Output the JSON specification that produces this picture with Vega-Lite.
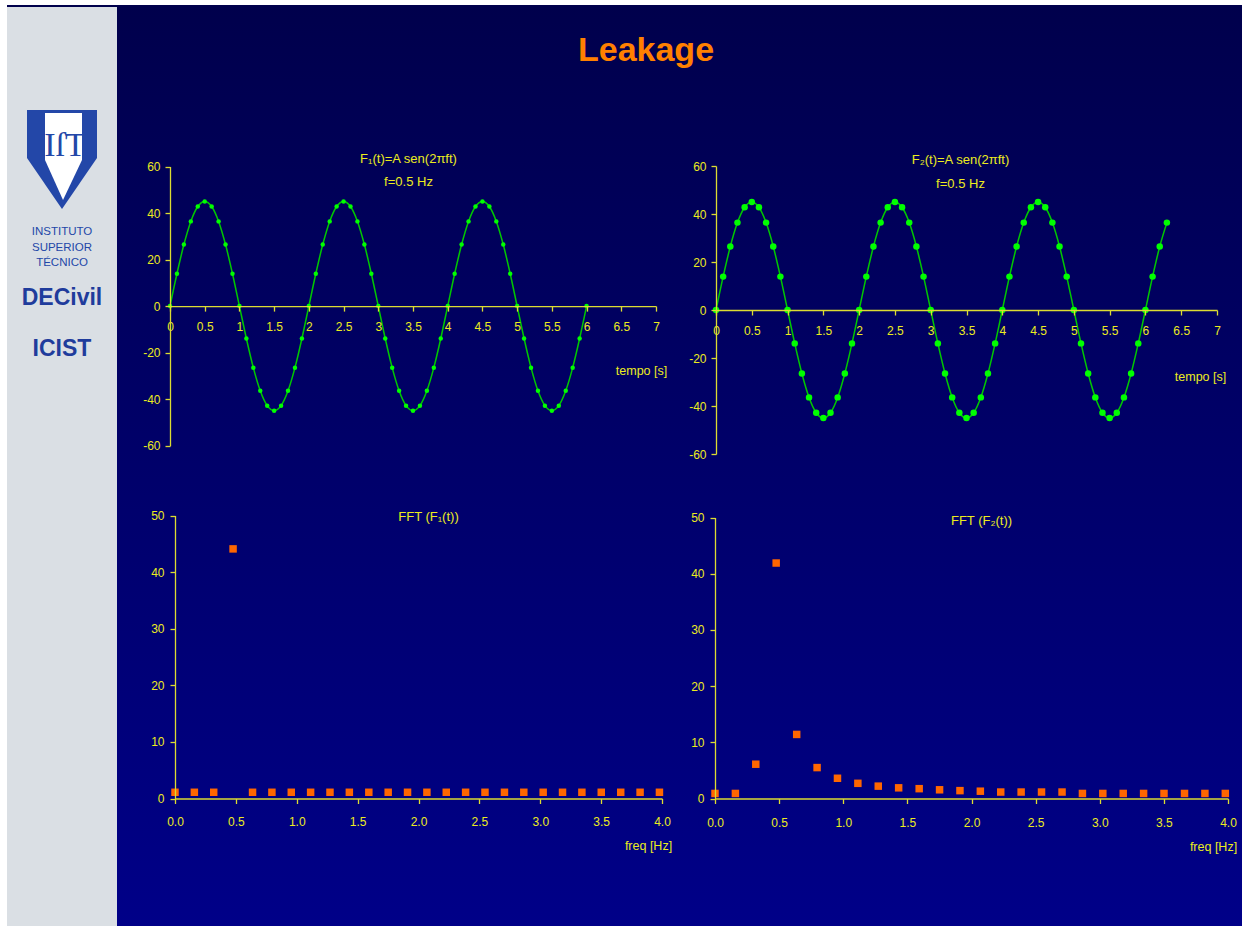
{
  "$schema": "https://vega.github.io/schema/vega-lite/v6.json",
  "background": "white",
  "padding": {"left": 7, "top": 5, "right": 8, "bottom": 0},
  "spacing": 0,
  "config": {
    "view": {"stroke": null},
    "axis": {
      "grid": false,
      "labelFont": "Liberation Sans",
      "titleFont": "Liberation Sans",
      "labelColor": "#ecec1e",
      "titleColor": "#ecec1e",
      "domainColor": "#dcdc32",
      "tickColor": "#dcdc32",
      "labelFontSize": 12,
      "titleFontSize": 12.5,
      "titleFontWeight": "normal",
      "tickSize": 5,
      "domainWidth": 1.3,
      "tickWidth": 1.3,
      "labelFlush": false,
      "labelOverlap": false
    }
  },
  "datasets": {
    "f1": [
      {"t": 0, "v": 0}, {"t": 0.1, "v": 13.91}, {"t": 0.2, "v": 26.45}, {"t": 0.3, "v": 36.41}, {"t": 0.4, "v": 42.8}, {"t": 0.5, "v": 45}, {"t": 0.6, "v": 42.8}, {"t": 0.7, "v": 36.41}, {"t": 0.8, "v": 26.45}, {"t": 0.9, "v": 13.91},
      {"t": 1, "v": 0}, {"t": 1.1, "v": -13.91}, {"t": 1.2, "v": -26.45}, {"t": 1.3, "v": -36.41}, {"t": 1.4, "v": -42.8}, {"t": 1.5, "v": -45}, {"t": 1.6, "v": -42.8}, {"t": 1.7, "v": -36.41}, {"t": 1.8, "v": -26.45}, {"t": 1.9, "v": -13.91},
      {"t": 2, "v": 0}, {"t": 2.1, "v": 13.91}, {"t": 2.2, "v": 26.45}, {"t": 2.3, "v": 36.41}, {"t": 2.4, "v": 42.8}, {"t": 2.5, "v": 45}, {"t": 2.6, "v": 42.8}, {"t": 2.7, "v": 36.41}, {"t": 2.8, "v": 26.45}, {"t": 2.9, "v": 13.91},
      {"t": 3, "v": 0}, {"t": 3.1, "v": -13.91}, {"t": 3.2, "v": -26.45}, {"t": 3.3, "v": -36.41}, {"t": 3.4, "v": -42.8}, {"t": 3.5, "v": -45}, {"t": 3.6, "v": -42.8}, {"t": 3.7, "v": -36.41}, {"t": 3.8, "v": -26.45}, {"t": 3.9, "v": -13.91},
      {"t": 4, "v": 0}, {"t": 4.1, "v": 13.91}, {"t": 4.2, "v": 26.45}, {"t": 4.3, "v": 36.41}, {"t": 4.4, "v": 42.8}, {"t": 4.5, "v": 45}, {"t": 4.6, "v": 42.8}, {"t": 4.7, "v": 36.41}, {"t": 4.8, "v": 26.45}, {"t": 4.9, "v": 13.91},
      {"t": 5, "v": 0}, {"t": 5.1, "v": -13.91}, {"t": 5.2, "v": -26.45}, {"t": 5.3, "v": -36.41}, {"t": 5.4, "v": -42.8}, {"t": 5.5, "v": -45}, {"t": 5.6, "v": -42.8}, {"t": 5.7, "v": -36.41}, {"t": 5.8, "v": -26.45}, {"t": 5.9, "v": -13.91},
      {"t": 6, "v": 0}
    ],
    "f2": [
      {"t": 0, "v": 0}, {"t": 0.1, "v": 13.91}, {"t": 0.2, "v": 26.45}, {"t": 0.3, "v": 36.41}, {"t": 0.4, "v": 42.8}, {"t": 0.5, "v": 45}, {"t": 0.6, "v": 42.8}, {"t": 0.7, "v": 36.41}, {"t": 0.8, "v": 26.45}, {"t": 0.9, "v": 13.91},
      {"t": 1, "v": 0}, {"t": 1.1, "v": -13.91}, {"t": 1.2, "v": -26.45}, {"t": 1.3, "v": -36.41}, {"t": 1.4, "v": -42.8}, {"t": 1.5, "v": -45}, {"t": 1.6, "v": -42.8}, {"t": 1.7, "v": -36.41}, {"t": 1.8, "v": -26.45}, {"t": 1.9, "v": -13.91},
      {"t": 2, "v": 0}, {"t": 2.1, "v": 13.91}, {"t": 2.2, "v": 26.45}, {"t": 2.3, "v": 36.41}, {"t": 2.4, "v": 42.8}, {"t": 2.5, "v": 45}, {"t": 2.6, "v": 42.8}, {"t": 2.7, "v": 36.41}, {"t": 2.8, "v": 26.45}, {"t": 2.9, "v": 13.91},
      {"t": 3, "v": 0}, {"t": 3.1, "v": -13.91}, {"t": 3.2, "v": -26.45}, {"t": 3.3, "v": -36.41}, {"t": 3.4, "v": -42.8}, {"t": 3.5, "v": -45}, {"t": 3.6, "v": -42.8}, {"t": 3.7, "v": -36.41}, {"t": 3.8, "v": -26.45}, {"t": 3.9, "v": -13.91},
      {"t": 4, "v": 0}, {"t": 4.1, "v": 13.91}, {"t": 4.2, "v": 26.45}, {"t": 4.3, "v": 36.41}, {"t": 4.4, "v": 42.8}, {"t": 4.5, "v": 45}, {"t": 4.6, "v": 42.8}, {"t": 4.7, "v": 36.41}, {"t": 4.8, "v": 26.45}, {"t": 4.9, "v": 13.91},
      {"t": 5, "v": 0}, {"t": 5.1, "v": -13.91}, {"t": 5.2, "v": -26.45}, {"t": 5.3, "v": -36.41}, {"t": 5.4, "v": -42.8}, {"t": 5.5, "v": -45}, {"t": 5.6, "v": -42.8}, {"t": 5.7, "v": -36.41}, {"t": 5.8, "v": -26.45}, {"t": 5.9, "v": -13.91},
      {"t": 6, "v": 0}, {"t": 6.1, "v": 13.91}, {"t": 6.2, "v": 26.45}, {"t": 6.3, "v": 36.41}
    ],
    "fft1": [
      {"f": 0, "a": 1.1}, {"f": 0.159, "a": 1.1}, {"f": 0.318, "a": 1.1}, {"f": 0.477, "a": 44.1}, {"f": 0.637, "a": 1.1}, {"f": 0.796, "a": 1.1}, {"f": 0.955, "a": 1.1}, {"f": 1.114, "a": 1.1}, {"f": 1.273, "a": 1.1}, {"f": 1.432, "a": 1.1},
      {"f": 1.592, "a": 1.1}, {"f": 1.751, "a": 1.1}, {"f": 1.91, "a": 1.1}, {"f": 2.069, "a": 1.1}, {"f": 2.228, "a": 1.1}, {"f": 2.387, "a": 1.1}, {"f": 2.546, "a": 1.1}, {"f": 2.706, "a": 1.1}, {"f": 2.865, "a": 1.1}, {"f": 3.024, "a": 1.1},
      {"f": 3.183, "a": 1.1}, {"f": 3.342, "a": 1.1}, {"f": 3.501, "a": 1.1}, {"f": 3.661, "a": 1.1}, {"f": 3.82, "a": 1.1}, {"f": 3.979, "a": 1.1}
    ],
    "fft2": [
      {"f": 0, "a": 0.9}, {"f": 0.159, "a": 0.9}, {"f": 0.318, "a": 6.1}, {"f": 0.477, "a": 41.9}, {"f": 0.637, "a": 11.4}, {"f": 0.796, "a": 5.5}, {"f": 0.955, "a": 3.6}, {"f": 1.114, "a": 2.7}, {"f": 1.273, "a": 2.2}, {"f": 1.432, "a": 1.9},
      {"f": 1.592, "a": 1.75}, {"f": 1.751, "a": 1.55}, {"f": 1.91, "a": 1.4}, {"f": 2.069, "a": 1.3}, {"f": 2.228, "a": 1.15}, {"f": 2.387, "a": 1.15}, {"f": 2.546, "a": 1.15}, {"f": 2.706, "a": 1.15}, {"f": 2.865, "a": 0.9}, {"f": 3.024, "a": 0.9},
      {"f": 3.183, "a": 0.9}, {"f": 3.342, "a": 0.9}, {"f": 3.501, "a": 0.9}, {"f": 3.661, "a": 0.9}, {"f": 3.82, "a": 0.9}, {"f": 3.979, "a": 0.9}
    ]
  },
  "hconcat": [
    {
      "spacing": 0,
      "bounds": "flush",
      "vconcat": [
        {
          "width": 110, "height": 105,
          "data": {"values": [{}]},
          "mark": {"type": "rect", "color": {"gradient": "linear", "x1": 0, "y1": 0, "x2": 0, "y2": 1, "stops": [{"offset": 0, "color": "#00004c"}, {"offset": 0.019, "color": "#00004c"}, {"offset": 0.02, "color": "#dadfe4"}, {"offset": 1, "color": "#dadfe4"}]}},
          "encoding": {}
        },
        {
          "width": 110, "height": 100,
          "data": {"values": [{}]},
          "layer": [
            {"mark": {"type": "rect", "color": "#dadfe4"}, "encoding": {}},
            {"mark": {"type": "point", "shape": "M-0.7,-1L0.7,-1L0.7,-0.04L0,0.98L-0.7,-0.04Z", "size": 10000, "filled": true, "color": "#2347a8", "opacity": 1, "strokeWidth": 0}, "encoding": {}},
            {"mark": {"type": "point", "shape": "M-0.34,-0.94L0.4,-0.94L0.4,0L0.02,0.8L-0.34,0Z", "size": 10000, "filled": true, "color": "#ffffff", "opacity": 1, "strokeWidth": 0}, "encoding": {}},
            {"mark": {"type": "text", "text": "IſT", "font": "Liberation Serif", "fontSize": 34, "color": "#2347a8", "dx": 3, "dy": -14}, "encoding": {}}
          ]
        },
        {
          "width": 110, "height": 14,
          "data": {"values": [{}]},
          "mark": {"type": "rect", "color": "#dadfe4"},
          "encoding": {}
        },
        {
          "width": 110, "height": 16,
          "data": {"values": [{}]},
          "layer": [
            {"mark": {"type": "rect", "color": "#dadfe4"}, "encoding": {}},
            {"mark": {"type": "text", "text": "INSTITUTO", "font": "Liberation Sans", "fontSize": 11.5, "color": "#2347a8", "baseline": "middle"}, "encoding": {}}
          ]
        },
        {
          "width": 110, "height": 15,
          "data": {"values": [{}]},
          "layer": [
            {"mark": {"type": "rect", "color": "#dadfe4"}, "encoding": {}},
            {"mark": {"type": "text", "text": "SUPERIOR", "font": "Liberation Sans", "fontSize": 11.5, "color": "#2347a8", "baseline": "middle"}, "encoding": {}}
          ]
        },
        {
          "width": 110, "height": 16,
          "data": {"values": [{}]},
          "layer": [
            {"mark": {"type": "rect", "color": "#dadfe4"}, "encoding": {}},
            {"mark": {"type": "text", "text": "TÉCNICO", "font": "Liberation Sans", "fontSize": 11.5, "color": "#2347a8", "baseline": "middle"}, "encoding": {}}
          ]
        },
        {
          "width": 110, "height": 54,
          "data": {"values": [{}]},
          "layer": [
            {"mark": {"type": "rect", "color": "#dadfe4"}, "encoding": {}},
            {"mark": {"type": "text", "text": "DECivil", "font": "Liberation Sans", "fontSize": 23, "fontWeight": "bold", "color": "#1f3c9c", "baseline": "middle"}, "encoding": {}}
          ]
        },
        {
          "width": 110, "height": 48,
          "data": {"values": [{}]},
          "layer": [
            {"mark": {"type": "rect", "color": "#dadfe4"}, "encoding": {}},
            {"mark": {"type": "text", "text": "ICIST", "font": "Liberation Sans", "fontSize": 23, "fontWeight": "bold", "color": "#1f3c9c", "baseline": "middle"}, "encoding": {}}
          ]
        },
        {
          "width": 110, "height": 553,
          "data": {"values": [{}]},
          "mark": {"type": "rect", "color": "#dadfe4"},
          "encoding": {}
        }
      ]
    },
    {
      "width": 1125, "height": 921,
      "title": {"text": "Leakage", "font": "Liberation Sans", "fontSize": 34, "fontWeight": "bold", "color": "#ff8000", "anchor": "middle", "frame": "group", "offset": -90, "dx": -33.5, "baseline": "alphabetic"},
      "layer": [
        {
          "data": {"values": [{}]},
          "mark": {"type": "rect", "color": {"gradient": "linear", "x1": 0, "y1": 0, "x2": 0, "y2": 1, "stops": [{"offset": 0, "color": "#00004c"}, {"offset": 1, "color": "#000088"}]}},
          "encoding": {}
        },
        {
          "data": {"name": "f1"},
          "encoding": {
            "x": {"field": "t", "type": "quantitative",
              "scale": {"domain": [0, 7], "range": [53, 539], "nice": false, "zero": false},
              "axis": {"zindex": 1, "orient": "bottom", "offset": -619.9, "values": [0, 0.5, 1, 1.5, 2, 2.5, 3, 3.5, 4, 4.5, 5, 5.5, 6, 6.5, 7], "labelExpr": "'' + datum.value", "labelPadding": 10,
                "title": "tempo [s]", "titleX": 524, "titleY": 64, "titleAlign": "center", "titleBaseline": "middle"}},
            "y": {"field": "v", "type": "quantitative",
              "scale": {"domain": [-60, 60], "range": [440.7, 161.5], "nice": false, "zero": false},
              "axis": {"zindex": 1, "orient": "left", "offset": -53, "values": [-60, -40, -20, 0, 20, 40, 60], "labelExpr": "'' + datum.value", "labelPadding": 5,
                "title": ["F₁(t)=A sen(2πft)", "f=0.5 Hz"], "titleAngle": 0, "titleX": 238, "titleY": 157, "titleAlign": "center", "titleBaseline": "alphabetic", "titleLineHeight": 23, "titleFontSize": 13}}
          },
          "layer": [
            {"mark": {"type": "line", "interpolate": "monotone", "color": "#00c800", "strokeWidth": 1.5}},
            {"mark": {"type": "circle", "size": 20, "color": "#00ff00", "opacity": 1}}
          ]
        },
        {
          "data": {"name": "f2"},
          "encoding": {
            "x": {"field": "t", "type": "quantitative",
              "scale": {"domain": [0, 7], "range": [599, 1100], "nice": false, "zero": false},
              "axis": {"zindex": 1, "orient": "bottom", "offset": -616, "values": [0, 0.5, 1, 1.5, 2, 2.5, 3, 3.5, 4, 4.5, 5, 5.5, 6, 6.5, 7], "labelExpr": "'' + datum.value", "labelPadding": 10,
                "title": "tempo [s]", "titleX": 1083, "titleY": 66, "titleAlign": "center", "titleBaseline": "middle"}},
            "y": {"field": "v", "type": "quantitative",
              "scale": {"domain": [-60, 60], "range": [449, 161], "nice": false, "zero": false},
              "axis": {"zindex": 1, "orient": "left", "offset": -599, "values": [-60, -40, -20, 0, 20, 40, 60], "labelExpr": "'' + datum.value", "labelPadding": 5,
                "title": ["F₂(t)=A sen(2πft)", "f=0.5 Hz"], "titleAngle": 0, "titleX": 244, "titleY": 158, "titleAlign": "center", "titleBaseline": "alphabetic", "titleLineHeight": 24, "titleFontSize": 13}}
          },
          "layer": [
            {"mark": {"type": "line", "interpolate": "monotone", "color": "#00c800", "strokeWidth": 1.5}},
            {"mark": {"type": "circle", "size": 42, "color": "#00ff00", "opacity": 1}}
          ]
        },
        {
          "data": {"name": "fft1"},
          "encoding": {
            "x": {"field": "f", "type": "quantitative",
              "scale": {"domain": [0, 4], "range": [58, 545], "nice": false, "zero": false},
              "axis": {"zindex": 1, "orient": "bottom", "offset": -127.5, "values": [0, 0.5, 1, 1.5, 2, 2.5, 3, 3.5, 4], "format": ".1f", "labelPadding": 13,
                "title": "freq [Hz]", "titleX": 531, "titleY": 47, "titleAlign": "center", "titleBaseline": "middle"}},
            "y": {"field": "a", "type": "quantitative",
              "scale": {"domain": [0, 50], "range": [793.5, 510.5], "nice": false, "zero": false},
              "axis": {"zindex": 1, "orient": "left", "offset": -58, "values": [0, 10, 20, 30, 40, 50], "labelPadding": 6,
                "title": "FFT (F₁(t))", "titleAngle": 0, "titleX": 253, "titleY": 515, "titleAlign": "center", "titleBaseline": "alphabetic", "titleFontSize": 13}}
          },
          "mark": {"type": "square", "size": 56, "color": "#ff6600", "opacity": 1}
        },
        {
          "data": {"name": "fft2"},
          "encoding": {
            "x": {"field": "f", "type": "quantitative",
              "scale": {"domain": [0, 4], "range": [598, 1111], "nice": false, "zero": false},
              "axis": {"zindex": 1, "orient": "bottom", "offset": -127.5, "values": [0, 0.5, 1, 1.5, 2, 2.5, 3, 3.5, 4], "format": ".1f", "labelPadding": 14,
                "title": "freq [Hz]", "titleX": 1096, "titleY": 48, "titleAlign": "center", "titleBaseline": "middle"}},
            "y": {"field": "a", "type": "quantitative",
              "scale": {"domain": [0, 50], "range": [793.5, 512.5], "nice": false, "zero": false},
              "axis": {"zindex": 1, "orient": "left", "offset": -598, "values": [0, 10, 20, 30, 40, 50], "labelPadding": 6,
                "title": "FFT (F₂(t))", "titleAngle": 0, "titleX": 266, "titleY": 519, "titleAlign": "center", "titleBaseline": "alphabetic", "titleFontSize": 13}}
          },
          "mark": {"type": "square", "size": 56, "color": "#ff6600", "opacity": 1}
        }
      ],
      "resolve": {"scale": {"x": "independent", "y": "independent"}, "axis": {"x": "independent", "y": "independent"}}
    }
  ]
}
